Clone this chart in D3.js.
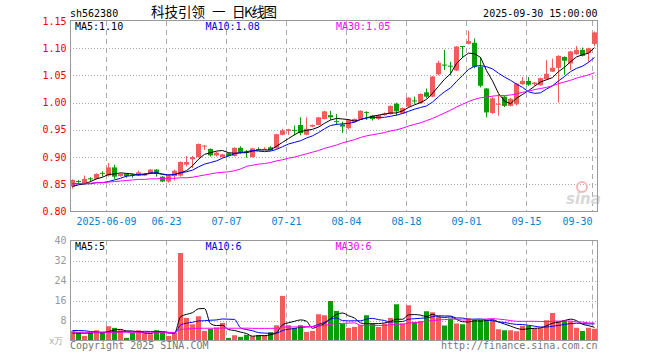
<!DOCTYPE html>
<html>
<head>
<meta charset="utf-8">
<script src="https://cdn.jsdelivr.net/npm/d3@7"></script>
<style>
  body { margin: 0; background: #fff; }
  text { font-family: 'DejaVu Sans Mono', monospace; font-size: 10px; }
</style>
</head>
<body>
<div id="chart"></div>
<script>
// trading days shown (2025-05-29 .. 2025-09-30)
const dates = [
  '05-29','05-30','06-03','06-04','06-05','06-06',
  '06-09','06-10','06-11','06-12','06-13','06-16','06-17','06-18','06-19','06-20',
  '06-23','06-24','06-25','06-26','06-27','06-30','07-01','07-02','07-03','07-04',
  '07-07','07-08','07-09','07-10','07-11','07-14','07-15','07-16','07-17','07-18',
  '07-21','07-22','07-23','07-24','07-25','07-28','07-29','07-30','07-31','08-01',
  '08-04','08-05','08-06','08-07','08-08','08-11','08-12','08-13','08-14','08-15',
  '08-18','08-19','08-20','08-21','08-22','08-25','08-26','08-27','08-28','08-29',
  '09-01','09-02','09-03','09-04','09-05','09-08','09-09','09-10','09-11','09-12',
  '09-15','09-16','09-17','09-18','09-19','09-22','09-23','09-24','09-25','09-26',
  '09-29','09-30'
];

const open = [
  0.846,0.856,0.850,0.861,0.860,0.871,0.866,0.881,0.865,0.869,
  0.868,0.866,0.866,0.870,0.877,0.864,0.855,0.865,0.866,0.886,
  0.896,0.900,0.920,0.915,0.903,0.900,0.907,0.902,0.917,0.910,
  0.900,0.915,0.914,0.918,0.916,0.941,0.948,0.950,0.959,0.941,
  0.956,0.959,0.970,0.977,0.966,0.960,0.953,0.965,0.970,0.983,
  0.976,0.970,0.977,0.979,0.998,0.980,0.993,1.004,0.999,1.019,
  1.011,1.052,1.070,1.068,1.059,1.104,1.108,1.110,1.066,1.026,
  0.981,0.997,1.011,0.994,0.997,1.034,1.040,1.034,1.032,1.043,
  1.057,1.064,1.084,1.072,1.089,1.097,1.091,1.108
];
const high = [
  0.859,0.858,0.866,0.863,0.870,0.874,0.889,0.886,0.870,0.870,
  0.870,0.875,0.871,0.878,0.878,0.865,0.866,0.877,0.892,0.902,
  0.902,0.925,0.922,0.916,0.910,0.906,0.908,0.918,0.920,0.913,
  0.917,0.918,0.918,0.920,0.943,0.952,0.952,0.958,0.973,0.973,
  0.960,0.974,0.985,0.985,0.979,0.965,0.969,0.971,0.986,0.984,
  0.977,0.978,0.982,0.995,1.000,0.991,1.010,1.011,1.017,1.026,
  1.049,1.077,1.097,1.075,1.104,1.104,1.132,1.118,1.084,1.027,
  1.011,1.016,1.012,1.009,1.036,1.047,1.047,1.038,1.046,1.078,
  1.081,1.087,1.085,1.095,1.104,1.101,1.101,1.131
];
const low = [
  0.842,0.851,0.849,0.855,0.859,0.864,0.864,0.860,0.864,0.862,
  0.862,0.865,0.865,0.869,0.864,0.854,0.853,0.857,0.864,0.883,
  0.880,0.899,0.913,0.901,0.901,0.899,0.901,0.901,0.906,0.899,
  0.899,0.912,0.913,0.912,0.915,0.940,0.941,0.940,0.940,0.940,
  0.955,0.958,0.969,0.968,0.959,0.944,0.951,0.964,0.969,0.968,
  0.967,0.968,0.976,0.978,0.976,0.979,0.992,0.998,0.998,1.008,
  1.010,1.050,1.060,1.050,1.058,1.082,1.107,1.063,1.028,0.973,
  0.979,0.976,0.992,0.993,0.995,1.033,1.031,1.031,1.031,1.042,
  1.056,1.000,1.051,1.060,1.088,1.085,1.075,1.104
];
const close = [
  0.858,0.855,0.860,0.859,0.869,0.870,0.881,0.864,0.869,0.865,
  0.866,0.872,0.869,0.877,0.869,0.855,0.865,0.875,0.891,0.891,
  0.900,0.924,0.921,0.903,0.908,0.905,0.902,0.917,0.909,0.909,
  0.916,0.914,0.915,0.913,0.942,0.949,0.951,0.949,0.944,0.952,
  0.959,0.973,0.984,0.973,0.965,0.956,0.968,0.970,0.985,0.982,
  0.970,0.977,0.980,0.994,0.984,0.990,1.009,1.003,1.016,1.011,
  1.048,1.073,1.068,1.066,1.103,1.103,1.113,1.066,1.031,0.982,
  1.008,0.998,0.994,1.007,1.035,1.040,1.033,1.037,1.045,1.053,
  1.064,1.086,1.077,1.094,1.097,1.086,1.100,1.129
];

// price moving averages
const ma5 = [
  0.846,0.849,0.851,0.855,0.860,0.863,0.868,0.869,0.871,0.870,
  0.869,0.867,0.868,0.870,0.871,0.868,0.867,0.868,0.871,0.875,
  0.884,0.896,0.905,0.908,0.911,0.912,0.908,0.907,0.908,0.908,
  0.911,0.913,0.913,0.913,0.920,0.927,0.934,0.941,0.947,0.949,
  0.951,0.955,0.962,0.968,0.971,0.970,0.969,0.966,0.969,0.972,
  0.975,0.977,0.979,0.981,0.981,0.985,0.991,0.996,1.000,1.006,
  1.017,1.030,1.043,1.053,1.072,1.083,1.091,1.090,1.083,1.059,
  1.040,1.017,1.003,0.998,1.008,1.015,1.022,1.030,1.038,1.042,
  1.046,1.057,1.065,1.075,1.084,1.088,1.091,1.101
];
const ma10 = [
  0.851,0.851,0.851,0.851,0.853,0.853,0.855,0.858,0.861,0.865,
  0.866,0.868,0.869,0.871,0.871,0.869,0.867,0.868,0.871,0.873,
  0.876,0.882,0.887,0.890,0.893,0.898,0.902,0.906,0.908,0.910,
  0.912,0.911,0.910,0.911,0.914,0.919,0.924,0.927,0.930,0.935,
  0.939,0.945,0.952,0.958,0.960,0.961,0.962,0.964,0.969,0.972,
  0.973,0.973,0.973,0.975,0.977,0.980,0.984,0.988,0.991,0.994,
  1.001,1.011,1.020,1.027,1.039,1.050,1.061,1.067,1.068,1.066,
  1.062,1.054,1.047,1.041,1.034,1.028,1.020,1.017,1.018,1.025,
  1.031,1.040,1.048,1.057,1.063,1.067,1.074,1.083
];
const ma30 = [
  0.851,0.851,0.852,0.852,0.853,0.853,0.854,0.855,0.856,0.857,
  0.858,0.859,0.859,0.860,0.860,0.861,0.861,0.861,0.862,0.862,
  0.863,0.865,0.867,0.869,0.871,0.872,0.873,0.875,0.878,0.883,
  0.885,0.887,0.888,0.890,0.893,0.895,0.898,0.900,0.903,0.906,
  0.909,0.912,0.916,0.919,0.922,0.926,0.929,0.932,0.936,0.939,
  0.941,0.943,0.945,0.948,0.950,0.953,0.957,0.960,0.963,0.967,
  0.971,0.976,0.981,0.986,0.992,0.997,1.002,1.006,1.009,1.010,
  1.012,1.013,1.013,1.014,1.016,1.019,1.021,1.024,1.026,1.028,
  1.031,1.035,1.038,1.041,1.045,1.048,1.051,1.055
];

// volume, unit: 10k lots
const volume = [
  3.85,3.05,1.85,3.05,4.1,3.3,5.7,5.05,4.1,1.05,
  3.05,4.1,3.2,2.5,4.1,3.2,1.85,3.2,35.0,9.05,
  6.5,9.7,3.85,4.65,5.2,7.05,1.05,2.1,1.45,2.3,
  1.7,2.1,2.1,3.3,6.1,17.85,6.1,5.05,6.1,3.45,
  3.85,10.5,10.1,15.8,11.8,6.8,5.05,5.45,6.1,10.1,
  6.8,5.4,6.8,9.05,14.5,6.8,14.1,7.45,7.85,11.7,
  11.3,9.4,6.0,8.8,6.8,6.5,8.9,8.3,8.2,8.1,
  8.1,4.5,4.1,4.1,3.7,5.85,5.85,4.8,4.9,8.1,
  11.0,7.8,8.1,7.7,5.1,3.8,5.1,4.7
];
const vma5 = [
  3.0,3.0,2.9,3.0,3.18,3.07,3.6,4.24,4.45,3.84,
  3.79,3.47,3.1,2.78,3.39,3.42,2.97,2.97,9.47,10.46,
  11.12,12.69,12.82,6.75,5.98,6.09,4.36,4.01,3.37,2.79,
  1.72,1.93,1.93,2.3,3.06,6.29,7.09,7.68,8.24,7.71,
  4.91,5.79,6.8,8.74,10.41,11.0,9.91,8.98,7.04,6.7,
  6.7,6.77,7.04,7.63,8.51,8.51,10.25,10.38,10.14,9.58,
  10.48,9.54,9.25,9.44,8.46,7.5,7.4,7.86,7.74,8.0,
  8.32,7.44,6.6,5.78,4.9,4.45,4.72,4.86,5.02,5.9,
  6.93,7.32,7.98,8.54,7.94,6.5,5.96,5.28
];
const vma10 = [
  4.0,4.0,3.9,3.6,3.4,3.3,3.4,3.5,3.5,3.51,
  3.43,3.54,3.67,3.62,3.62,3.61,3.22,3.04,6.13,6.93,
  7.27,7.83,7.9,8.11,8.22,8.61,8.53,8.42,5.06,4.39,
  3.91,3.15,2.97,2.84,2.93,4.01,4.51,4.81,5.27,5.39,
  5.6,6.44,7.24,8.49,9.06,7.96,7.85,7.89,7.89,8.56,
  8.85,8.34,8.01,7.34,7.61,7.61,8.51,8.71,8.89,9.05,
  9.5,9.9,9.82,9.79,9.02,8.99,8.47,8.56,8.59,8.23,
  7.91,7.42,7.23,6.76,6.45,6.39,6.08,5.73,5.4,5.4,
  5.69,6.02,6.42,6.78,6.92,6.72,6.64,6.63
];
const vma30 = [
  3.3,3.3,3.3,3.25,3.25,3.3,3.3,3.3,3.35,3.3,
  3.3,3.3,3.3,3.3,3.3,3.3,3.25,3.25,4.4,4.6,
  4.7,4.9,4.9,4.9,4.9,5.0,4.9,4.9,4.9,4.94,
  4.87,4.84,4.85,4.85,4.92,5.41,5.42,5.42,5.49,5.57,
  5.59,5.81,6.04,6.48,6.74,6.86,6.96,7.04,6.07,6.11,
  6.12,5.98,6.07,6.22,6.53,6.52,6.96,7.14,7.35,7.66,
  7.98,8.23,8.36,8.54,8.56,8.18,8.28,8.39,8.46,8.61,
  8.75,8.55,8.35,7.96,7.69,7.66,7.69,7.67,7.63,7.56,
  7.7,7.78,7.82,7.78,7.46,7.36,7.06,6.97
];

const priceTicks = [0.80, 0.85, 0.90, 0.95, 1.00, 1.05, 1.10, 1.15];
const volTicks = [8, 16, 24, 32, 40];
const dateTicks = ['06-09','06-23','07-07','07-21','08-04','08-18','09-01','09-15','09-30'];
const dateLabels = ['2025-06-09','06-23','07-07','07-21','08-04','08-18','09-01','09-15','09-30'];

const W = 660, H = 360;
const left = 70, right = 598;
const red = '#f65b5b', green = '#0a9d0a';

const svg = d3.select('#chart').append('svg').attr('width', W).attr('height', H);

const x = d3.scaleBand().domain(dates).range([left, right]);
const y = d3.scaleLinear().domain([0.80, 1.15]).range([211.5, 21]);
const yv = d3.scaleLinear().domain([0, 40]).range([340.5, 240.5]);

// header
svg.append('text').attr('x', 70).attr('y', 16.5).attr('fill', '#000').text('sh562380');
const cjk = t => t.style('font-family', "'Noto Sans CJK SC'").style('font-size', '13.5px').attr('fill', '#000');
cjk(svg.append('text').attr('x', 151).attr('y', 17).text('科技引领'));
cjk(svg.append('text').attr('x', 212).attr('y', 17).text('一'));
cjk(svg.append('text').attr('x', 232).attr('y', 17).attr('textLength', 45).text('日K线图'));
svg.append('text').attr('x', 597.5).attr('y', 16.5).attr('text-anchor', 'end').text('2025-09-30 15:00:00');

// horizontal grid
svg.append('g').selectAll('line').data(priceTicks.slice(1, -1)).join('line')
  .attr('x1', left).attr('x2', right)
  .attr('y1', d => Math.round(y(d)) + 0.5).attr('y2', d => Math.round(y(d)) + 0.5)
  .attr('stroke', '#aaa').attr('stroke-dasharray', '1,2');
svg.append('g').selectAll('line').data(volTicks.slice(0, -1)).join('line')
  .attr('x1', left).attr('x2', right)
  .attr('y1', d => Math.round(yv(d)) + 0.5).attr('y2', d => Math.round(yv(d)) + 0.5)
  .attr('stroke', '#aaa').attr('stroke-dasharray', '1,2');

// vertical dashed grid
[[21, 211.5], [240.5, 340.5]].forEach(r => {
  svg.append('g').selectAll('line').data(dateTicks).join('line')
    .attr('x1', d => x(d) + 0.5).attr('x2', d => x(d) + 0.5)
    .attr('y1', r[0]).attr('y2', r[1])
    .attr('stroke', '#aaa').attr('stroke-dasharray', '5,4');
});

// price labels
svg.append('g').selectAll('text').data(priceTicks).join('text')
  .attr('x', 66.5).attr('y', d => y(d) + 3.5).attr('text-anchor', 'end')
  .attr('fill', '#e00').text(d => d.toFixed(2));

// date labels
svg.append('g').selectAll('text').data(dateTicks).join('text')
  .attr('x', d => x(d) + 0.5).attr('y', 225)
  .attr('text-anchor', (d, i) => i === dateTicks.length - 1 ? 'end' : 'middle')
  .attr('fill', '#0a80cc').text((d, i) => dateLabels[i]);

// volume labels
svg.append('g').selectAll('text').data(volTicks).join('text')
  .attr('x', 66.5).attr('y', d => yv(d) + 3.5).attr('text-anchor', 'end')
  .attr('fill', '#999').text(d => d);
svg.append('text').attr('x', 49).attr('y', 344).attr('fill', '#aaa')
  .style('font-size', '9px').text('x万');

// watermark
svg.append('circle').attr('cx', 582).attr('cy', 187).attr('r', 5)
  .attr('fill', 'none').attr('stroke', '#f4b8b8').attr('stroke-width', 2);
svg.append('text').attr('x', 566).attr('y', 204).attr('fill', '#d8d8d8')
  .style('font-family', 'DejaVu Sans').style('font-size', '15px')
  .style('font-weight', 'bold').style('font-style', 'italic').text('sina');

// candles
const bw = 5;
const c = svg.append('g');
dates.forEach((d, i) => {
  const up = close[i] >= open[i];
  const col = up ? red : green;
  const x0 = x(d);
  c.append('line')
    .attr('x1', x0 + 2.5).attr('x2', x0 + 2.5)
    .attr('y1', y(high[i])).attr('y2', y(low[i]))
    .attr('stroke', col);
  const top = y(Math.max(open[i], close[i]));
  const h = Math.max(1, y(Math.min(open[i], close[i])) - top);
  c.append('rect').attr('x', x0).attr('y', top).attr('width', bw).attr('height', h).attr('fill', col);
});

// volume bars
svg.append('g').selectAll('rect').data(dates).join('rect')
  .attr('x', d => x(d)).attr('width', bw)
  .attr('y', (d, i) => yv(volume[i])).attr('height', (d, i) => yv(0) - yv(volume[i]))
  .attr('fill', (d, i) => close[i] >= open[i] ? red : green);

// MA lines
const pLine = d3.line().x((d, i) => x(dates[i]) + 2.5).y(d => y(d));
const vLine = d3.line().x((d, i) => x(dates[i]) + 2.5).y(d => yv(d)).curve(d3.curveMonotoneX);
[[ma5, '#000'], [ma10, '#00f'], [ma30, '#f0f']].forEach(m => {
  svg.append('path').attr('d', pLine(m[0])).attr('fill', 'none').attr('stroke', m[1]);
});
[[vma5, '#000'], [vma10, '#00f'], [vma30, '#f0f']].forEach(m => {
  svg.append('path').attr('d', vLine(m[0])).attr('fill', 'none').attr('stroke', m[1]);
});

// frames
[[20.5, 211.5], [240.5, 340.5]].forEach(r => {
  svg.append('rect').attr('x', 70.5).attr('y', r[0]).attr('width', 527).attr('height', r[1] - r[0])
    .attr('fill', 'none').attr('stroke', '#999');
});

// legends
svg.append('text').attr('x', 75).attr('y', 29.5).attr('fill', '#000').text('MA5:1.10');
svg.append('text').attr('x', 205.5).attr('y', 29.5).attr('fill', '#00f').text('MA10:1.08');
svg.append('text').attr('x', 336).attr('y', 29.5).attr('fill', '#f0f').text('MA30:1.05');
svg.append('text').attr('x', 75).attr('y', 249.5).attr('fill', '#000').text('MA5:5');
svg.append('text').attr('x', 205.5).attr('y', 249.5).attr('fill', '#00f').text('MA10:6');
svg.append('text').attr('x', 335.5).attr('y', 249.5).attr('fill', '#f0f').text('MA30:6');

// footer
svg.append('text').attr('x', 70).attr('y', 348.5).attr('fill', '#777').text('Copyright 2025 SINA.COM');
svg.append('text').attr('x', 597.5).attr('y', 348.5).attr('text-anchor', 'end').attr('fill', '#777')
  .text('http://finance.sina.com.cn');
</script>
</body>
</html>
